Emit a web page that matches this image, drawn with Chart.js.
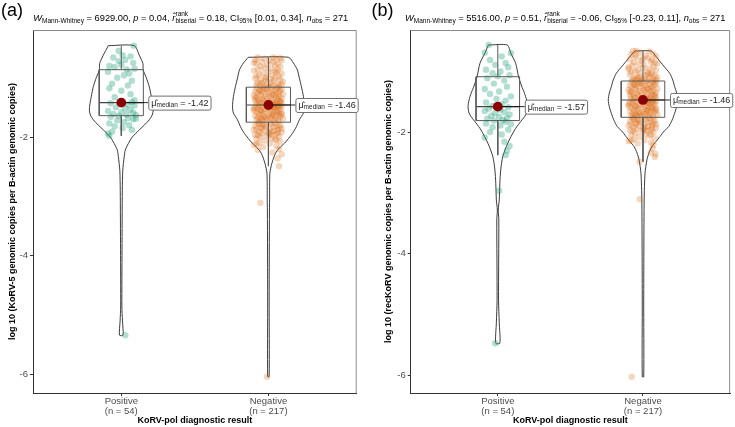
<!DOCTYPE html>
<html><head><meta charset="utf-8">
<script src="https://cdn.jsdelivr.net/npm/chart.js"></script>
<style>
html,body{margin:0;padding:0;background:#fff;}
#wrap{position:relative;width:735px;height:427px;overflow:hidden;}
canvas{position:absolute;top:0;}
</style></head><body>
<div id="wrap"><canvas id="ca" width="367" height="427" style="left:0"></canvas><canvas id="cb" width="368" height="427" style="left:367px"></canvas></div>
<script>
// ---------------- data ----------------
const categories = ['Positive', 'Negative'];
const groupCounts = [54, 217];
const yTicks = [-6, -4, -2];
const xTitle = 'KoRV-pol diagnostic result';
const yTitleA = 'log 10 (KoRV-5 genomic copies per B-actin genomic copies)';
const yTitleB = 'log 10 (recKoRV genomic copies per B-actin genomic copies)';
// W, p, r, CI low, CI high, n
const subtitleA = ['6929.00', '0.04', '0.18', '0.01', '0.34', '271'];
const subtitleB = ['5516.00', '0.51', '-0.06', '-0.23', '0.11', '271'];
const mediansA = [-1.42, -1.46];
const mediansB = [-1.57, -1.46];
// box stats: [lower whisker, Q1, Q3, upper whisker]
const boxA_pos = [-1.98, -1.64, -0.865, -0.46];
const boxA_neg = [-2.49, -1.75, -1.16, -0.656];
const boxB_pos = [-2.37, -1.80, -1.076, -0.553];
const boxB_neg = [-2.48, -1.746, -1.147, -0.652];
// violin density profiles: value, half-width (category units)
const violinA_pos_v = [-0.46,-0.62,-0.76,-0.87,-1.0,-1.15,-1.32,-1.46,-1.55,-1.63,-1.71,-1.80,-1.88,-2.0,-2.11,-2.22,-2.33,-2.56,-2.9,-3.9,-4.85,-5.1,-5.34];
const violinA_pos_w = [0.088,0.122,0.147,0.149,0.170,0.190,0.204,0.214,0.217,0.210,0.190,0.156,0.122,0.075,0.048,0.027,0.020,0.010,0.007,0.005,0.004,0.008,0.012];
const violinA_neg_v = [-0.656,-0.752,-0.87,-1.005,-1.15,-1.32,-1.49,-1.595,-1.71,-1.826,-1.94,-2.106,-2.185,-2.275,-2.44,-2.61,-3.06,-3.23,-4.75,-6.04];
const violinA_neg_w = [0.136,0.170,0.197,0.210,0.224,0.238,0.244,0.238,0.210,0.190,0.163,0.109,0.075,0.048,0.024,0.010,0.008,0.007,0.005,0.005];
const violinB_pos_v = [-0.553,-0.685,-0.855,-1.076,-1.23,-1.35,-1.46,-1.571,-1.675,-1.736,-1.84,-1.955,-2.175,-2.396,-2.615,-2.835,-3.11,-3.276,-3.44,-4.76,-5.14,-5.475];
const violinB_pos_w = [0.065,0.089,0.123,0.143,0.164,0.184,0.198,0.205,0.198,0.184,0.150,0.116,0.068,0.034,0.020,0.014,0.010,0.003,0.007,0.005,0.010,0.014];
const violinB_neg_v = [-0.652,-0.72,-0.80,-0.90,-1.02,-1.13,-1.24,-1.345,-1.46,-1.571,-1.68,-1.79,-1.90,-1.97,-2.066,-2.149,-2.23,-2.335,-2.45,-2.67,-3.11,-4.76,-6.03];
const violinB_neg_w = [0.057,0.082,0.109,0.143,0.184,0.205,0.218,0.232,0.239,0.232,0.218,0.201,0.177,0.147,0.116,0.089,0.061,0.041,0.027,0.014,0.008,0.005,0.005];
// jittered observations: [value, horizontal jitter]
const ptsA_pos = [[-0.46,0.095],[-0.55,-0.02],[-0.62,0.01],[-0.66,-0.06],[-0.70,0.03],[-0.72,-0.02],[-0.78,0.00],[-0.80,-0.09],[-0.82,-0.05],[-0.85,0.10],
[-0.86,0.04],[-0.64,0.07],[-0.75,0.09],[-0.90,-0.10],[-0.93,0.06],[-0.96,0.02],[-1.00,-0.03],[-1.05,0.08],[-1.10,-0.07],[-1.13,0.05],
[-1.18,-0.09],[-1.22,0.00],[-1.28,0.07],[-1.33,-0.05],[-1.38,0.10],[-1.41,0.08],[-1.43,-0.08],[-1.45,0.05],[-1.47,0.10],[-1.50,-0.04],
[-1.52,0.03],[-1.54,0.07],[-1.56,-0.10],[-1.58,0.00],[-1.59,0.09],[-1.61,-0.06],[-1.62,0.04],[-1.63,0.11],[-1.64,-0.02],[-1.66,-0.08],
[-1.68,0.05],[-1.70,0.09],[-1.72,-0.03],[-1.75,0.02],[-1.77,-0.09],[-1.80,0.06],[-1.82,-0.05],[-1.85,0.01],[-1.88,0.08],[-1.91,-0.07],
[-1.94,-0.10],[-1.98,-0.09],[-1.69,0.11],[-5.34,0.03]];
const ptsA_neg = [[-0.66,0.04],[-0.66,-0.08],[-0.67,0.09],[-0.68,-0.03],[-0.69,0.06],[-0.70,-0.10],[-0.71,0.01],[-0.71,0.10],[-0.73,-0.05],[-0.74,0.03],
[-0.76,-0.09],[-0.77,0.07],[-0.78,-0.01],[-0.79,0.05],[-0.81,-0.06],[-0.82,0.09],[-0.83,-0.03],[-0.85,0.02],[-0.86,-0.08],[-0.87,0.07],
[-0.88,-0.11],[-0.90,0.00],[-0.91,0.06],[-0.92,-0.04],[-0.93,0.10],[-0.95,-0.07],[-0.96,0.03],[-0.97,-0.09],[-0.98,0.08],[-0.99,-0.02],
[-1.00,0.05],[-1.01,-0.10],[-1.02,0.01],[-1.03,0.09],[-1.04,-0.06],[-1.05,0.04],[-1.06,-0.03],[-1.07,0.11],[-1.08,-0.08],[-1.08,0.02],
[-1.09,-0.05],[-1.10,0.07],[-1.11,-0.01],[-1.12,0.10],[-1.12,-0.09],[-1.13,0.03],[-1.14,-0.06],[-1.14,0.08],[-1.15,-0.04],[-1.15,0.00],
[-1.16,0.06],[-0.75,-0.11],[-0.89,0.05],[-1.01,-0.02],
[-1.17,0.02],[-1.17,-0.09],[-1.18,0.07],[-1.19,-0.04],[-1.19,0.10],[-1.20,-0.01],[-1.21,0.05],[-1.21,-0.07],[-1.22,0.09],[-1.23,-0.10],
[-1.23,0.03],[-1.24,-0.05],[-1.25,0.08],[-1.25,0.00],[-1.26,-0.08],[-1.27,0.06],[-1.27,-0.02],[-1.28,0.11],[-1.29,-0.06],[-1.29,0.04],
[-1.30,-0.11],[-1.31,0.01],[-1.31,0.08],[-1.32,-0.03],[-1.33,0.06],[-1.33,-0.09],[-1.34,0.02],[-1.35,-0.05],[-1.35,0.10],[-1.36,-0.01],
[-1.36,0.07],[-1.37,-0.08],[-1.38,0.04],[-1.38,-0.04],[-1.39,0.09],[-1.39,-0.10],[-1.40,0.00],[-1.41,0.06],[-1.41,-0.07],[-1.42,0.03],
[-1.42,-0.03],[-1.43,0.10],[-1.43,-0.06],[-1.44,0.05],[-1.44,-0.09],[-1.45,0.01],[-1.45,0.08],[-1.46,-0.02],[-1.46,0.04],[-1.22,-0.06],
[-1.28,0.03],[-1.34,-0.10],[-1.40,0.09],[-1.18,-0.02],
[-1.47,-0.07],[-1.47,0.06],[-1.48,-0.01],[-1.48,0.10],[-1.49,-0.05],[-1.49,0.03],[-1.50,-0.10],[-1.50,0.08],[-1.51,0.00],[-1.52,-0.08],
[-1.52,0.05],[-1.53,-0.03],[-1.53,0.09],[-1.54,-0.06],[-1.55,0.02],[-1.55,-0.11],[-1.56,0.07],[-1.57,-0.02],[-1.57,0.04],[-1.58,-0.09],
[-1.59,0.10],[-1.59,-0.04],[-1.60,0.01],[-1.61,0.08],[-1.61,-0.07],[-1.62,0.03],[-1.63,-0.05],[-1.63,0.06],[-1.64,-0.10],[-1.65,0.00],
[-1.65,0.09],[-1.66,-0.03],[-1.67,0.05],[-1.67,-0.08],[-1.68,0.02],[-1.69,-0.06],[-1.69,0.11],[-1.70,-0.01],[-1.71,0.07],[-1.71,-0.09],
[-1.72,0.04],[-1.73,-0.04],[-1.73,0.08],[-1.74,-0.07],[-1.75,0.01],[-1.50,0.04],[-1.56,-0.06],[-1.62,0.10],[-1.68,-0.02],[-1.58,0.06],
[-1.52,-0.11],[-1.64,0.03],[-1.70,-0.05],[-1.48,0.07],
[-1.76,0.05],[-1.77,-0.08],[-1.78,0.02],[-1.79,-0.04],[-1.80,0.09],[-1.81,-0.10],[-1.82,0.06],[-1.83,-0.02],[-1.84,0.08],[-1.85,-0.06],
[-1.86,0.01],[-1.87,-0.09],[-1.88,0.07],[-1.89,-0.03],[-1.90,0.04],[-1.91,-0.07],[-1.92,0.10],[-1.93,0.00],[-1.94,-0.05],[-1.95,0.06],
[-1.96,-0.10],[-1.97,0.03],[-1.98,-0.01],[-1.99,0.08],[-2.00,-0.06],[-2.02,0.02],[-2.03,-0.09],[-2.05,0.05],[-2.06,-0.03],[-2.08,0.09],
[-2.10,-0.07],[-2.11,0.01],[-2.13,-0.11],[-2.15,0.06],[-2.17,-0.04],[-2.20,0.08],[-2.22,-0.08],[-2.26,0.03],[-2.29,0.10],[-2.36,0.07],
[-2.49,0.08],[-1.78,-0.07],[-1.83,0.04],[-1.88,-0.11],[-1.93,0.07],[-1.80,-0.03],[-1.86,0.10],[-1.91,0.02],[-1.97,-0.08],[-2.04,0.06],
[-1.84,-0.05],[-2.12,-0.09],[-3.11,-0.06],[-6.04,-0.01],[-1.95,0.01]];
const ptsB_pos = [[-0.553,-0.07],[-0.68,-0.10],[-0.69,0.10],[-0.74,0.03],[-0.80,-0.06],[-0.85,0.06],[-0.88,-0.02],[-0.92,0.08],[-0.96,-0.09],[-0.99,0.02],
[-1.02,-0.04],[-1.05,0.09],[-1.07,0.00],[-1.10,-0.08],[-1.14,0.05],[-1.19,-0.03],[-1.24,0.07],[-1.28,-0.10],[-1.32,0.01],[-1.36,-0.06],
[-1.40,0.10],[-1.44,-0.01],[-1.47,0.06],[-1.50,-0.09],[-1.53,0.03],[-1.56,-0.04],[-1.58,0.08],[-1.60,-0.07],[-1.62,0.02],[-1.64,-0.10],
[-1.66,0.05],[-1.68,-0.02],[-1.70,0.09],[-1.72,-0.05],[-1.74,0.01],[-1.76,0.07],[-1.77,-0.08],[-1.79,0.04],[-1.80,-0.03],[-1.82,0.06],
[-1.85,-0.09],[-1.88,0.02],[-1.91,-0.04],[-1.95,0.08],[-1.99,-0.06],[-2.03,0.03],[-2.08,-0.10],[-2.15,0.05],[-2.22,0.09],[-2.30,0.07],
[-2.37,0.06],[-2.96,0.01],[-5.475,-0.02],[-1.86,0.10]];
const ptsB_neg = [[-0.652,-0.075],[-0.652,-0.05],[-0.66,0.05],[-0.68,-0.02],[-0.70,0.08],[-0.71,-0.09],[-0.73,0.02],[-0.74,0.10],[-0.76,-0.05],[-0.77,0.04],
[-0.79,-0.10],[-0.80,0.07],[-0.81,-0.01],[-0.83,0.06],[-0.84,-0.07],[-0.85,0.09],[-0.87,-0.03],[-0.88,0.01],[-0.89,-0.08],[-0.91,0.08],
[-0.92,-0.11],[-0.93,0.00],[-0.94,0.05],[-0.96,-0.04],[-0.97,0.10],[-0.98,-0.06],[-0.99,0.03],[-1.00,-0.09],[-1.01,0.07],[-1.02,-0.02],
[-1.03,0.04],[-1.04,-0.10],[-1.05,0.02],[-1.06,0.09],[-1.07,-0.05],[-1.08,0.05],[-1.08,-0.03],[-1.09,0.11],[-1.10,-0.07],[-1.10,0.01],
[-1.11,-0.04],[-1.12,0.08],[-1.12,-0.01],[-1.13,0.10],[-1.13,-0.08],[-1.14,0.03],[-1.14,-0.06],[-1.15,0.07],[-1.15,-0.02],[-0.78,0.00],
[-0.86,0.11],[-0.95,-0.11],[-1.04,0.06],[-0.72,-0.06],
[-1.16,0.03],[-1.16,-0.09],[-1.17,0.08],[-1.18,-0.04],[-1.18,0.10],[-1.19,-0.01],[-1.20,0.05],[-1.20,-0.07],[-1.21,0.09],[-1.22,-0.10],
[-1.22,0.02],[-1.23,-0.05],[-1.24,0.07],[-1.24,0.00],[-1.25,-0.08],[-1.26,0.06],[-1.26,-0.02],[-1.27,0.11],[-1.28,-0.06],[-1.28,0.04],
[-1.29,-0.11],[-1.30,0.01],[-1.30,0.08],[-1.31,-0.03],[-1.32,0.06],[-1.32,-0.09],[-1.33,0.02],[-1.34,-0.05],[-1.34,0.10],[-1.35,-0.01],
[-1.36,0.07],[-1.36,-0.08],[-1.37,0.04],[-1.38,-0.04],[-1.38,0.09],[-1.39,-0.10],[-1.40,0.00],[-1.40,0.06],[-1.41,-0.07],[-1.42,0.03],
[-1.42,-0.03],[-1.43,0.10],[-1.43,-0.06],[-1.44,0.05],[-1.44,-0.09],[-1.45,0.01],[-1.45,0.08],[-1.46,-0.02],[-1.46,0.04],[-1.21,-0.06],
[-1.27,0.03],[-1.33,-0.10],[-1.39,0.09],[-1.17,-0.02],
[-1.47,-0.07],[-1.47,0.06],[-1.48,-0.01],[-1.48,0.10],[-1.49,-0.05],[-1.50,0.03],[-1.50,-0.10],[-1.51,0.08],[-1.52,0.00],[-1.52,-0.08],
[-1.53,0.05],[-1.54,-0.03],[-1.54,0.09],[-1.55,-0.06],[-1.56,0.02],[-1.56,-0.11],[-1.57,0.07],[-1.58,-0.02],[-1.58,0.04],[-1.59,-0.09],
[-1.60,0.10],[-1.60,-0.04],[-1.61,0.01],[-1.62,0.08],[-1.62,-0.07],[-1.63,0.03],[-1.64,-0.05],[-1.64,0.06],[-1.65,-0.10],[-1.66,0.00],
[-1.66,0.09],[-1.67,-0.03],[-1.68,0.05],[-1.68,-0.08],[-1.69,0.02],[-1.70,-0.06],[-1.70,0.11],[-1.71,-0.01],[-1.72,0.07],[-1.72,-0.09],
[-1.73,0.04],[-1.73,-0.04],[-1.74,0.08],[-1.74,-0.07],[-1.75,0.01],[-1.51,0.04],[-1.57,-0.06],[-1.63,0.10],[-1.69,-0.02],[-1.59,0.06],
[-1.53,-0.11],[-1.65,0.03],[-1.71,-0.05],[-1.49,0.07],
[-1.76,0.05],[-1.77,-0.08],[-1.78,0.02],[-1.79,-0.04],[-1.80,0.09],[-1.81,-0.10],[-1.82,0.06],[-1.83,-0.02],[-1.84,0.08],[-1.85,-0.06],
[-1.86,0.01],[-1.87,-0.09],[-1.88,0.07],[-1.89,-0.03],[-1.90,0.04],[-1.91,-0.07],[-1.92,0.10],[-1.93,0.00],[-1.94,-0.05],[-1.95,0.06],
[-1.96,-0.10],[-1.97,0.03],[-1.98,-0.01],[-1.99,0.08],[-2.01,-0.06],[-2.02,0.02],[-2.04,-0.09],[-2.05,0.05],[-2.07,-0.03],[-2.09,0.09],
[-2.11,-0.07],[-2.12,0.01],[-2.14,-0.11],[-2.16,0.06],[-2.18,-0.04],[-2.20,0.08],[-2.26,0.073],[-2.35,0.096],[-2.33,0.06],[-2.48,-0.027],
[-2.40,0.09],[-1.78,-0.07],[-1.83,0.04],[-1.88,-0.11],[-1.93,0.07],[-1.80,-0.03],[-1.86,0.10],[-1.91,0.02],[-1.97,-0.08],[-2.03,0.06],
[-1.84,-0.05],[-2.13,-0.09],[-3.10,-0.025],[-6.03,-0.087],[-1.95,0.01]];

// ---------------- styling ----------------
const FONT = '"Liberation Sans", Arial, Helvetica, sans-serif';
const pointColors = ['rgba(27,158,119,0.34)', 'rgba(217,95,2,0.26)'];
const BOX_HW = 0.15;
const JITTER_SCALE = 0.9;

function violinPath(c, vs, ws) {
  const pts = [];
  for (let i = 0; i < vs.length; i++) pts.push({x: c - ws[i], y: vs[i]});
  for (let i = vs.length - 1; i >= 0; i--) pts.push({x: c + ws[i], y: vs[i]});
  pts.push({x: c - ws[0], y: vs[0]});
  return pts;
}
function lineDs(data, color, width, order, tension) {
  return {type: 'scatter', data, showLine: true, fill: false, borderColor: color, borderWidth: width,
          pointRadius: 0, tension: tension || 0, order};
}

function drawParts(ctx, x, y, parts, doDraw) {
  let cx = x;
  for (const p of parts) {
    ctx.font = (p.style || '') + ' ' + p.size + 'px ' + FONT;
    if (doDraw) ctx.fillText(p.t, cx, y + (p.dy || 0));
    cx += ctx.measureText(p.t).width;
  }
  return cx - x;
}

function makePanel(P) {
  const ds = [];
  for (let i = 0; i < 2; i++) {
    const c = i + 1;
    const b = P.box[i], med = P.medians[i];
    ds.push(lineDs(violinPath(c, P.violinV[i], P.violinW[i]), '#262626', 0.9, 6, 0.25));
    ds.push({type: 'scatter', data: P.pts[i].map(p => ({x: c + p[1] * JITTER_SCALE, y: p[0]})), showLine: false,
             pointRadius: 3.2, pointBackgroundColor: pointColors[i], pointBorderWidth: 0, pointBorderColor: 'rgba(0,0,0,0)', order: 5});
    ds.push(lineDs([{x: c - BOX_HW, y: b[1]}, {x: c + BOX_HW, y: b[1]}, {x: c + BOX_HW, y: b[2]}, {x: c - BOX_HW, y: b[2]}, {x: c - BOX_HW, y: b[1]}], '#5a5a5a', 1, 4));
    ds.push(lineDs([{x: c - BOX_HW, y: med}, {x: c + BOX_HW, y: med}], '#444', 1.1, 4));
    ds.push(lineDs([{x: c, y: b[2]}, {x: c, y: b[3]}], '#5a5a5a', 1, 4));
    ds.push(lineDs([{x: c, y: b[1]}, {x: c, y: b[0]}], '#5a5a5a', 1, 4));
  }
  ds.push({type: 'scatter', data: P.medians.map((m, i) => ({x: i + 1, y: m})), showLine: false,
           pointRadius: 4.9, pointBackgroundColor: '#8B0000', pointBorderWidth: 0, order: 1});

  const decor = {
    id: 'decor' + P.canvas,
    afterDatasetsDraw(chart) {
      const ctx = chart.ctx, xs = chart.scales.x, ys = chart.scales.y, a = chart.chartArea;
      ctx.save();
      ctx.strokeStyle = '#8a8a8a'; ctx.lineWidth = 1;
      ctx.beginPath();
      ctx.moveTo(a.left, a.top + 0.5); ctx.lineTo(a.right - 0.5, a.top + 0.5); ctx.lineTo(a.right - 0.5, a.bottom);
      ctx.stroke();
      ctx.textBaseline = 'middle';
      for (let i = 0; i < 2; i++) {
        const px = xs.getPixelForValue(i + 1), py = ys.getPixelForValue(P.medians[i]);
        const parts = [{t: '\u03BC\u0302', size: 9}, {t: 'median', size: 6.5, dy: 2.2}, {t: ' = ' + P.medians[i].toFixed(2), size: 9}];
        const w = drawParts(ctx, 0, 0, parts, false) + 5;
        const lx = px + 27, h = 14;
        ctx.strokeStyle = '#111'; ctx.lineWidth = 0.9;
        ctx.beginPath(); ctx.moveTo(px + 4, py); ctx.lineTo(lx, py); ctx.stroke();
        ctx.fillStyle = '#fff'; ctx.strokeStyle = '#707070'; ctx.lineWidth = 1;
        ctx.beginPath(); ctx.roundRect(lx + 0.5, py - h / 2 + 0.5, w, h, 2); ctx.fill(); ctx.stroke();
        ctx.fillStyle = '#222';
        drawParts(ctx, lx + 3, py + 0.5, parts, true);
      }
      ctx.restore();
    },
    afterDraw(chart) {
      const ctx = chart.ctx, a = chart.chartArea;
      ctx.save();
      ctx.fillStyle = '#000';
      ctx.textBaseline = 'alphabetic';
      ctx.font = '18px ' + FONT;
      ctx.fillText(P.letter, P.letterX, 16);
      const s = P.sub, y0 = 20.5;
      let x = P.subX;
      x += drawParts(ctx, x, y0, [{t: 'W', size: 9.3, style: 'italic'}, {t: 'Mann-Whitney', size: 6.5, dy: 2},
        {t: ' = ' + s[0] + ', ', size: 9.3}, {t: 'p', size: 9.3, style: 'italic'}, {t: ' = ' + s[1] + ', ', size: 9.3},
        {t: 'r\u0302', size: 9.3, style: 'italic'}], true);
      ctx.font = '6.5px ' + FONT;
      ctx.fillText('rank', x, y0 - 5);
      ctx.fillText('biserial', x, y0 + 2);
      x += ctx.measureText('biserial').width;
      drawParts(ctx, x, y0, [{t: ' = ' + s[2] + ', CI', size: 9.3}, {t: '95%', size: 6.5, dy: 2},
        {t: ' [' + s[3] + ', ' + s[4] + '], ', size: 9.3}, {t: 'n', size: 9.3, style: 'italic'}, {t: 'obs', size: 6.5, dy: 2},
        {t: ' = ' + s[5], size: 9.3}], true);
      ctx.font = 'bold 9px ' + FONT;
      ctx.textAlign = 'center'; ctx.textBaseline = 'middle';
      ctx.fillText(xTitle, (a.left + a.right) / 2, 421);
      ctx.translate(P.yTitleX, (a.top + a.bottom) / 2);
      ctx.rotate(-Math.PI / 2);
      ctx.fillText(P.yTitle, 0, 0);
      ctx.restore();
    }
  };

  return new Chart(document.getElementById(P.canvas), {
    type: 'scatter',
    data: {datasets: ds},
    options: {
      responsive: false, animation: false, events: [],
      layout: {padding: {top: 30, right: P.padRight, left: 0, bottom: 0}},
      plugins: {legend: {display: false}, tooltip: {enabled: false}, title: {display: false}},
      scales: {
        x: {type: 'linear', min: 0.4, max: 2.6, position: 'bottom',
            afterBuildTicks: s => { s.ticks = categories.map((c, i) => ({value: i + 1})); },
            afterFit: s => { s.height = 34; },
            grid: {drawOnChartArea: false, drawTicks: true, tickLength: 3, tickColor: '#333', tickWidth: 1},
            border: {display: true, color: '#333', width: 1},
            ticks: {autoSkip: false, maxRotation: 0, color: '#4D4D4D', padding: 0,
                    font: {family: FONT, size: 9.5, lineHeight: 1.1},
                    callback: (v, i) => [categories[i], '(n = ' + groupCounts[i] + ')']}},
        y: {type: 'linear', min: P.yMin, max: P.yMax, position: 'left',
            afterBuildTicks: s => { s.ticks = yTicks.map(v => ({value: v})); },
            afterFit: s => { s.width = P.left; },
            grid: {drawOnChartArea: false, drawTicks: true, tickLength: 3, tickColor: '#333', tickWidth: 1},
            border: {display: true, color: '#333', width: 1},
            ticks: {color: '#4D4D4D', padding: 2, font: {family: FONT, size: 9.5}, callback: v => String(v)}}
      }
    },
    plugins: [decor]
  });
}

makePanel({canvas: 'ca', left: 33, padRight: 10.3, yMin: -6.315, yMax: -0.196,
  violinV: [violinA_pos_v, violinA_neg_v], violinW: [violinA_pos_w, violinA_neg_w],
  box: [boxA_pos, boxA_neg], medians: mediansA, pts: [ptsA_pos, ptsA_neg],
  letter: '(a)', letterX: 1, subX: 33.3, sub: subtitleA, yTitle: yTitleA, yTitleX: 13});
makePanel({canvas: 'cb', left: 43.7, padRight: 2, yMin: -6.297, yMax: -0.305,
  violinV: [violinB_pos_v, violinB_neg_v], violinW: [violinB_pos_w, violinB_neg_w],
  box: [boxB_pos, boxB_neg], medians: mediansB, pts: [ptsB_pos, ptsB_neg],
  letter: '(b)', letterX: 4.5, subX: 38, sub: subtitleB, yTitle: yTitleB, yTitleX: 22});
</script>
</body></html>
